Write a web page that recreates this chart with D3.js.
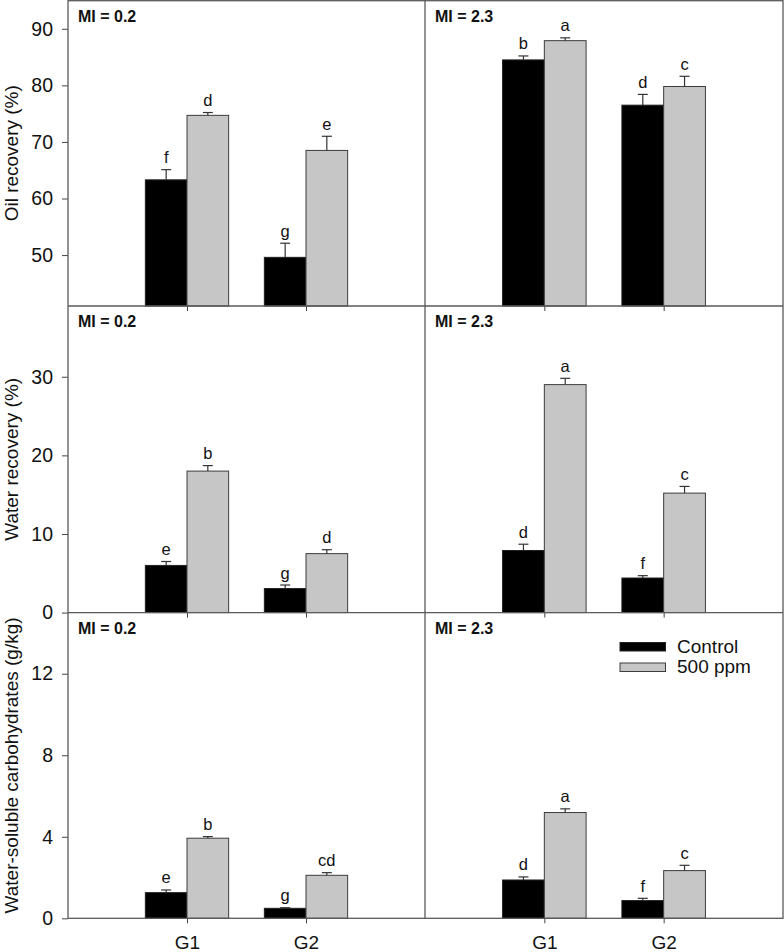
<!DOCTYPE html>
<html>
<head>
<meta charset="utf-8">
<script src="https://cdn.jsdelivr.net/npm/d3@7"></script>
<style>
  html, body { margin: 0; padding: 0; background: #fff; }
  svg { display: block; font-family: Arial, "Liberation Sans", sans-serif; }
</style>
</head>
<body>
<svg id="chart" width="784" height="952"></svg>
<script>
// ---------- data ----------
const groups = ["G1", "G2"];
const treatments = ["Control", "500 ppm"];
const miLabels = ["MI = 0.2", "MI = 2.3"];
const yTitles = ["Oil recovery (%)", "Water recovery (%)", "Water-soluble carbohydrates (g/kg)"];

// values indexed [MI][group][treatment]
const oilMean = [[[63.3, 74.7], [49.6, 68.5]], [[84.5, 87.9], [76.5, 79.8]]];
const oilSE   = [[[1.8, 0.5], [2.5, 2.5]], [[0.7, 0.5], [1.9, 1.8]]];
const oilLetters = [[["f", "d"], ["g", "e"]], [["b", "a"], ["d", "c"]]];

const waterMean = [[[6.0, 18.0], [3.06, 7.5]], [[7.9, 29.0], [4.4, 15.2]]];
const waterSE   = [[[0.5, 0.7], [0.45, 0.5]], [[0.8, 0.8], [0.3, 0.85]]];
const waterLetters = [[["e", "b"], ["g", "d"]], [["d", "a"], ["f", "c"]]];

const wscMean = [[[1.26, 3.93], [0.49, 2.11]], [[1.88, 5.19], [0.87, 2.34]]];
const wscSE   = [[[0.13, 0.08], [0.03, 0.13]], [[0.15, 0.18], [0.11, 0.26]]];
const wscLetters = [[["e", "b"], ["g", "cd"]], [["d", "a"], ["f", "c"]]];

const yDomains = [[41, 95], [0, 39], [0, 15]];
const yTicks = [[50, 60, 70, 80, 90], [0, 10, 20, 30], [0, 4, 8, 12]];

// ---------- layout ----------
const svg = d3.select("#chart");
const colX = [[68, 425], [425, 783]];
const rowY = [[0.5, 306], [306, 612.6], [612.6, 918.3]];
const frameColor = "#5a5a5a";
const barFill = ["#000000", "#c6c6c6"];
const barStroke = ["#222222", "#3c3c3c"];

const rows = [
  { mean: oilMean, se: oilSE, letters: oilLetters },
  { mean: waterMean, se: waterSE, letters: waterLetters },
  { mean: wscMean, se: wscSE, letters: wscLetters }
];

rows.forEach((row, r) => {
  const y = d3.scaleLinear().domain(yDomains[r]).range([rowY[r][1], rowY[r][0]]);

  // y axis on left panel
  const yAxis = d3.axisLeft(y).tickValues(yTicks[r]).tickSize(6).tickPadding(9).tickFormat(d3.format("d"));
  const ga = svg.append("g").attr("transform", `translate(${colX[0][0]},0)`).call(yAxis);
  ga.select(".domain").remove();
  ga.selectAll(".tick line").attr("stroke", "#444");
  ga.selectAll(".tick text").attr("font-size", 19.5).attr("fill", "#111")
    .attr("font-family", "Arial, 'Liberation Sans', sans-serif");

  // y title
  svg.append("text")
    .attr("transform", `translate(18,${(rowY[r][0] + rowY[r][1]) / 2}) rotate(-90)`)
    .attr("text-anchor", "middle")
    .attr("font-size", 19)
    .attr("fill", "#111")
    .text(yTitles[r]);

  [0, 1].forEach(c => {
    const x = d3.scaleLinear().domain([0, 3]).range(colX[c]);
    const bw = x(0.35) - x(0);
    const g = svg.append("g");

    // bars
    groups.forEach((grp, gi) => {
      treatments.forEach((t, ti) => {
        const cx = x(gi + 1);
        const x0 = ti === 0 ? cx - bw : cx;
        const v = row.mean[c][gi][ti];
        const e = row.se[c][gi][ti];
        g.append("rect")
          .attr("x", x0).attr("y", y(v))
          .attr("width", bw).attr("height", rowY[r][1] - y(v))
          .attr("fill", barFill[ti]).attr("stroke", barStroke[ti]).attr("stroke-width", 1);
        const bc = x0 + bw / 2;
        g.append("line").attr("x1", bc).attr("x2", bc)
          .attr("y1", y(v)).attr("y2", y(v + e))
          .attr("stroke", "#333").attr("stroke-width", 1.2);
        g.append("line").attr("x1", bc - 5).attr("x2", bc + 5)
          .attr("y1", y(v + e)).attr("y2", y(v + e))
          .attr("stroke", "#333").attr("stroke-width", 1.2);
        g.append("text").attr("x", bc).attr("y", y(v + e) - 6.5)
          .attr("text-anchor", "middle").attr("font-size", 16.5).attr("fill", "#111")
          .text(row.letters[c][gi][ti]);
      });
    });

    // x ticks at panel bottom
    const xAxis = d3.axisBottom(x).tickValues([1, 2]).tickSize(5)
      .tickFormat((d, i) => r === 2 ? groups[i] : "").tickPadding(12);
    const gx = svg.append("g").attr("transform", `translate(0,${rowY[r][1]})`).call(xAxis);
    gx.select(".domain").remove();
    gx.selectAll(".tick line").attr("stroke", "#444");
    gx.selectAll(".tick text").attr("font-size", 19).attr("fill", "#111")
      .attr("font-family", "Arial, 'Liberation Sans', sans-serif");

    // MI label
    svg.append("text")
      .attr("x", colX[c][0] + 10).attr("y", rowY[r][0] + 21)
      .attr("font-size", 16).attr("font-weight", "bold").attr("fill", "#111")
      .text(miLabels[c]);
  });
});

// frame lines
const fr = svg.append("g").attr("fill", "none").attr("stroke", frameColor).attr("stroke-width", 1.3);
fr.append("rect").attr("x", colX[0][0]).attr("y", 0.7)
  .attr("width", colX[1][1] - colX[0][0]).attr("height", rowY[2][1] - 0.7);
fr.append("line").attr("x1", colX[1][0]).attr("x2", colX[1][0]).attr("y1", 0).attr("y2", rowY[2][1]);
[rowY[0][1], rowY[1][1]].forEach(yy => {
  fr.append("line").attr("x1", colX[0][0]).attr("x2", colX[1][1]).attr("y1", yy).attr("y2", yy);
});

// legend
const lg = svg.append("g");
treatments.forEach((t, i) => {
  lg.append("rect").attr("x", 620).attr("y", 642.5 + i * 20.5)
    .attr("width", 45.5).attr("height", 8.5)
    .attr("fill", barFill[i]).attr("stroke", barStroke[i]).attr("stroke-width", 1);
  lg.append("text").attr("x", 677).attr("y", 652.5 + i * 20)
    .attr("font-size", 19).attr("fill", "#111").text(t);
});
</script>
</body>
</html>
